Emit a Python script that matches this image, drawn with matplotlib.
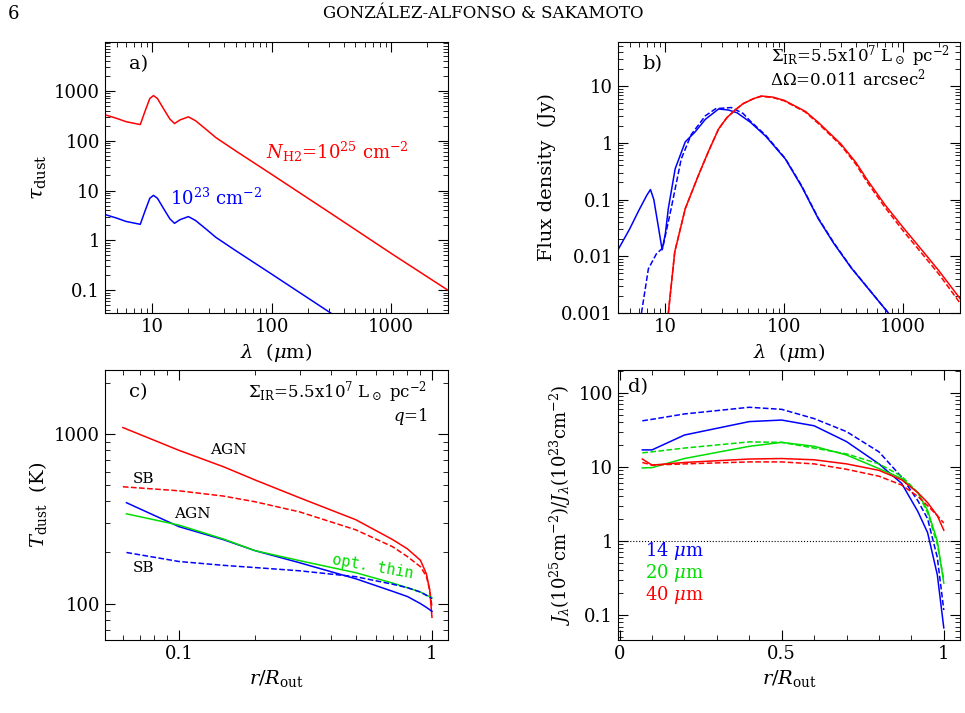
import numpy as np
import matplotlib
matplotlib.use("Agg")
import matplotlib.pyplot as plt
from matplotlib.ticker import FixedLocator, FixedFormatter, NullFormatter, LogLocator

plt.rcParams['font.family'] = ['DejaVu Serif']
plt.rcParams['mathtext.fontset'] = 'dejavuserif'

# Panel a: optical depth
lam_a = [4, 5, 6, 7.9, 8.7, 9.5, 10.2, 11, 12.5, 14, 15.3, 17, 20, 23, 28, 34, 50, 100, 330, 1000, 3000]
tau_hi = [330, 280, 240, 210, 400, 700, 800, 700, 420, 270, 220, 260, 300, 250, 170, 115, 62, 21, 3.2, 0.55, 0.1]
tau_lo = [v / 100 for v in tau_hi]

# Panel b: SEDs
lam_b_blue = [4, 5, 6, 7, 7.5, 8, 8.7, 9.4, 10, 10.6, 12.1, 14.7, 17.8, 21.7, 28, 33.8, 40, 52, 70, 102, 140, 193, 260, 366, 750]
flux_blue = [0.013, 0.03, 0.065, 0.12, 0.15, 0.1, 0.035, 0.013, 0.025, 0.07, 0.35, 1.04, 1.56, 2.6, 3.95, 3.8, 3.4, 2.3, 1.3, 0.52, 0.17, 0.046, 0.017, 0.0062, 0.001]
lam_b_blued = [6.3, 7.2, 8.4, 9.5, 11.2, 13.6, 16.5, 21.7, 26.5, 35.8, 45, 52, 70, 102, 140, 193, 260, 366, 750]
flux_blued = [0.001, 0.006, 0.011, 0.014, 0.07, 0.52, 1.4, 3.0, 4.0, 4.2, 3.3, 2.4, 1.35, 0.53, 0.175, 0.047, 0.0175, 0.0063, 0.001]
lam_b_red = [10.6, 12, 14.7, 19, 23, 28, 33, 38.7, 45, 55, 64, 80, 100, 150, 193, 300, 400, 500, 705, 1000, 1500, 2000, 3000]
flux_red = [0.001, 0.012, 0.069, 0.27, 0.7, 1.75, 2.8, 3.8, 4.9, 6.0, 6.7, 6.4, 5.6, 3.6, 2.3, 0.95, 0.45, 0.22, 0.08, 0.032, 0.0115, 0.0055, 0.0018]
flux_redd = [0.001, 0.012, 0.069, 0.27, 0.7, 1.75, 2.8, 3.8, 4.9, 6.0, 6.6, 6.3, 5.5, 3.5, 2.2, 0.9, 0.42, 0.2, 0.072, 0.028, 0.01, 0.0048, 0.0015]

# Panel c: dust temperature
r_c = [0.06, 0.1, 0.15, 0.2, 0.3, 0.5, 0.7, 0.8, 0.9, 0.95, 0.98, 1.0]
T_agn_red = [1090, 800, 640, 535, 420, 312, 238, 210, 180, 150, 120, 83]
T_sb_red = [488, 462, 430, 398, 347, 272, 216, 189, 165, 145, 120, 95]
r_c2 = [0.062, 0.1, 0.15, 0.2, 0.3, 0.5, 0.7, 0.8, 0.9, 0.95, 0.98, 1.0]
T_agn_blue = [393, 284, 238, 205, 174, 140, 118, 110, 100, 95, 92, 90]
T_thin = [338, 290, 240, 205, 179, 152, 132, 124, 117, 112, 110, 108]
T_sb_blue = [200, 177, 168, 163, 156, 144, 130, 124, 117, 112, 109, 107]

# Panel d: intensity ratios
r_d = [0.07, 0.1, 0.2, 0.4, 0.5, 0.6, 0.7, 0.8, 0.87, 0.92, 0.95, 0.98, 1.0]
J14 = [17, 17, 27, 41, 43, 36, 22, 11, 6, 2.5, 1.3, 0.35, 0.067]
J14d = [42, 44, 52, 64, 60, 45, 30, 16, 7.3, 3.5, 2.0, 0.6, 0.117]
J20 = [9.7, 9.8, 13, 19, 21.5, 19, 14.5, 9.5, 7, 4.5, 2.6, 1.0, 0.27]
J20d = [15.5, 16, 18, 21.8, 21.5, 18, 15, 11, 7.5, 4.5, 2.4, 0.9, 0.3]
J40 = [12.8, 10.6, 11.5, 12.8, 13, 12.5, 11, 9, 6.7, 4.5, 3.3, 2.2, 1.4]
J40d = [11.5, 10.6, 11, 11.7, 11.7, 11, 9.3, 7.5, 5.7, 4, 3, 2.2, 1.75]

fig = plt.figure(figsize=(9.65, 7.13), dpi=100)
W, H = 965, 713
def ax_at(x0, y0, x1, y1):
    return fig.add_axes([x0 / W, 1 - y1 / H, (x1 - x0) / W, (y1 - y0) / H])

fig.text(8 / W, 1 - 14 / H, "6", fontsize=13, va='center')
fig.text(483 / W, 1 - 14 / H, "GONZÁLEZ-ALFONSO & SAKAMOTO", fontsize=12, ha='center', va='center')

def style(ax):
    ax.tick_params(which='both', direction='in', top=True, right=True, labelsize=13)
    ax.tick_params(which='major', length=7)
    ax.tick_params(which='minor', length=3.5)

def logfmt(ax, axis, vals, labs):
    a = ax.xaxis if axis == 'x' else ax.yaxis
    a.set_major_locator(FixedLocator(vals))
    a.set_major_formatter(FixedFormatter(labs))
    a.set_minor_locator(LogLocator(subs=np.arange(2, 10)))
    a.set_minor_formatter(NullFormatter())

lw = 1.1
G = '#00dd00'
# a
ax = ax_at(105, 42, 448, 313)
ax.plot(lam_a, tau_hi, color='red', lw=lw)
ax.plot(lam_a, tau_lo, color='blue', lw=lw)
ax.set_xscale('log'); ax.set_yscale('log')
ax.set_xlim(4, 3000); ax.set_ylim(0.035, 9500)
logfmt(ax, 'x', [10, 100, 1000], ['10', '100', '1000'])
logfmt(ax, 'y', [0.1, 1, 10, 100, 1000], ['0.1', '1', '10', '100', '1000'])
style(ax)
ax.set_xlabel(r'$\lambda$  ($\mu$m)', fontsize=14)
ax.set_ylabel(r'$\tau_{\rm dust}$', fontsize=15)
ax.text(0.07, 0.9, 'a)', transform=ax.transAxes, fontsize=14)
ax.text(0.47, 0.57, r'$N_{\rm H2}$=10$^{25}$ cm$^{-2}$', transform=ax.transAxes, color='red', fontsize=13)
ax.text(0.19, 0.4, r'10$^{23}$ cm$^{-2}$', transform=ax.transAxes, color='blue', fontsize=13)

# b
ax = ax_at(618, 42, 960, 313)
ax.plot(lam_b_blue, flux_blue, color='blue', lw=lw)
ax.plot(lam_b_blued, flux_blued, color='blue', lw=lw, ls='--')
ax.plot(lam_b_red, flux_red, color='red', lw=lw)
ax.plot(lam_b_red, flux_redd, color='red', lw=lw, ls='--')
ax.set_xscale('log'); ax.set_yscale('log')
ax.set_xlim(4, 3000); ax.set_ylim(0.001, 60)
logfmt(ax, 'x', [10, 100, 1000], ['10', '100', '1000'])
logfmt(ax, 'y', [0.001, 0.01, 0.1, 1, 10], ['0.001', '0.01', '0.1', '1', '10'])
style(ax)
ax.set_xlabel(r'$\lambda$  ($\mu$m)', fontsize=14)
ax.set_ylabel('Flux density  (Jy)', fontsize=14)
ax.text(0.07, 0.9, 'b)', transform=ax.transAxes, fontsize=14)
ax.text(0.97, 0.93, r'$\Sigma_{\rm IR}$=5.5x10$^7$ L$_\odot$ pc$^{-2}$', transform=ax.transAxes, ha='right', fontsize=12)
ax.text(0.9, 0.84, r'$\Delta\Omega$=0.011 arcsec$^2$', transform=ax.transAxes, ha='right', fontsize=12)

# c
ax = ax_at(105, 370, 448, 640)
ax.plot(r_c, T_agn_red, color='red', lw=lw)
ax.plot(r_c, T_sb_red, color='red', lw=lw, ls='--')
ax.plot(r_c2, T_agn_blue, color='blue', lw=lw)
ax.plot(r_c2, T_thin, color=G, lw=lw)
ax.plot(r_c2, T_sb_blue, color='blue', lw=lw, ls='--')
ax.set_xscale('log'); ax.set_yscale('log')
ax.set_xlim(0.051, 1.157); ax.set_ylim(61, 2380)
logfmt(ax, 'x', [0.1, 1], ['0.1', '1'])
logfmt(ax, 'y', [100, 1000], ['100', '1000'])
style(ax)
ax.set_xlabel(r'$r/R_{\rm out}$', fontsize=14)
ax.set_ylabel(r'$T_{\rm dust}$  (K)', fontsize=14)
ax.text(0.07, 0.9, 'c)', transform=ax.transAxes, fontsize=14)
ax.text(0.94, 0.9, r'$\Sigma_{\rm IR}$=5.5x10$^7$ L$_\odot$ pc$^{-2}$', transform=ax.transAxes, ha='right', fontsize=12)
ax.text(0.94, 0.81, r'$q$=1', transform=ax.transAxes, ha='right', fontsize=12)
ax.text(0.305, 0.69, 'AGN', transform=ax.transAxes, fontsize=11)
ax.text(0.08, 0.58, 'SB', transform=ax.transAxes, fontsize=11)
ax.text(0.2, 0.45, 'AGN', transform=ax.transAxes, fontsize=11)
ax.text(0.08, 0.25, 'SB', transform=ax.transAxes, fontsize=11)
ax.text(0.66, 0.23, 'opt. thin', transform=ax.transAxes, fontsize=11, color=G, rotation=-10, family='DejaVu Sans Mono')

# d
ax = ax_at(618, 370, 960, 640)
ax.axhline(1, color='black', lw=0.8, ls=':')
ax.plot(r_d, J14, color='blue', lw=lw)
ax.plot(r_d, J14d, color='blue', lw=lw, ls='--')
ax.plot(r_d, J20, color=G, lw=lw)
ax.plot(r_d, J20d, color=G, lw=lw, ls='--')
ax.plot(r_d, J40, color='red', lw=lw)
ax.plot(r_d, J40d, color='red', lw=lw, ls='--')
ax.set_yscale('log')
ax.set_xlim(-0.005, 1.05); ax.set_ylim(0.046, 204)
ax.xaxis.set_major_locator(FixedLocator([0, 0.5, 1]))
ax.xaxis.set_major_formatter(FixedFormatter(['0', '0.5', '1']))
ax.xaxis.set_minor_locator(FixedLocator(np.arange(0.1, 1.05, 0.1)))
logfmt(ax, 'y', [0.1, 1, 10, 100], ['0.1', '1', '10', '100'])
style(ax)
ax.set_xlabel(r'$r/R_{\rm out}$', fontsize=14)
ax.set_ylabel(r'$J_\lambda$(10$^{25}$cm$^{-2}$)/$J_\lambda$(10$^{23}$cm$^{-2}$)', fontsize=13)
ax.text(0.03, 0.92, 'd)', transform=ax.transAxes, fontsize=14)
ax.text(0.08, 0.31, r'14 $\mu$m', transform=ax.transAxes, fontsize=13, color='blue')
ax.text(0.08, 0.23, r'20 $\mu$m', transform=ax.transAxes, fontsize=13, color=G)
ax.text(0.08, 0.15, r'40 $\mu$m', transform=ax.transAxes, fontsize=13, color='red')

fig.savefig('out.png', dpi=100)
